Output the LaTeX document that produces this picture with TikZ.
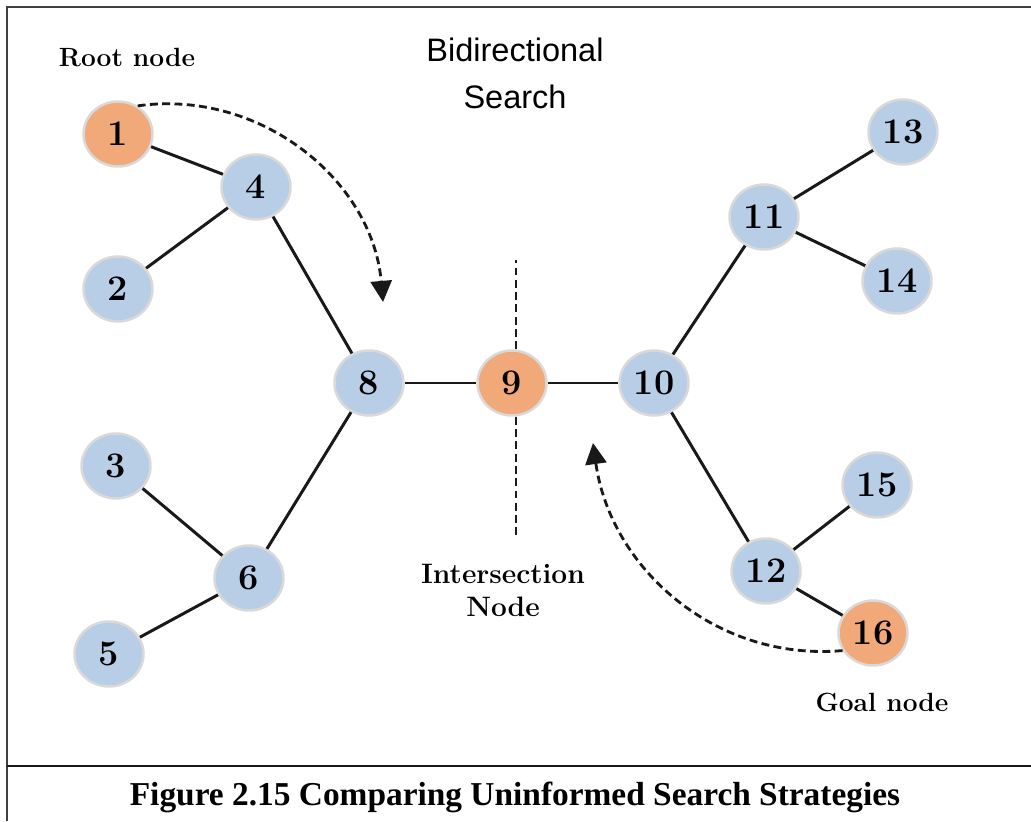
\documentclass[tikz,border=0pt]{standalone}
\usepackage{fontspec}
\usepackage{xcolor}
\usepackage{tikz}
\usetikzlibrary{shapes,arrows,positioning,calc,arrows.meta}
\newfontfamily\titlefont{Liberation Sans}
\newfontfamily\capfont{Liberation Serif}
\definecolor{nodeblue}{RGB}{184,206,230}
\definecolor{nodeorange}{RGB}{241,169,122}

\begin{document}
\begin{tikzpicture}[
    vert/.style={ellipse, draw=white!85!black, line width=1.4pt, fill=nodeblue,
        minimum width=1.38cm, minimum height=1.30cm, inner sep=0pt,
        font=\fontsize{20.5}{20.5}\selectfont\bfseries},
    hit/.style={vert, fill=nodeorange},
    edge/.style={line width=1.7pt, black!90},
    hint/.style={line width=1.6pt, black!90, dash pattern=on 4.5pt off 2.5pt},
    lbl/.style={font=\fontsize{15}{19}\selectfont\bfseries, align=center}
]
    \useasboundingbox (0,0) rectangle (20.62,16.42);
    \draw[line width=1.5pt, black!75] (0.14,0) -- (0.14,16.28) -- (20.62,16.28);
    \draw[line width=1.6pt, black!90] (0.14,1.10) -- (20.62,1.10);

    \node[font=\titlefont\fontsize{18.5}{26.7}\selectfont, align=center] (title) at (10.30,14.95) {Bidirectional\\Search};
    \node[lbl] (rootlbl) at (2.54,15.26) {Root node};
    \node[lbl] (goallbl) at (17.64,2.38) {Goal node};
    \node[lbl, font=\fontsize{16}{19}\selectfont\bfseries] (meetlbl) at (10.06,4.61) {Intersection\\Node};

    \node[hit]  (n1)  at (2.36,13.74) {1};
    \node[vert] (n2)  at (2.36,10.64) {2};
    \node[vert] (n4)  at (5.12,12.68) {4};
    \node[vert] (n3)  at (2.32,7.10)  {3};
    \node[vert] (n6)  at (4.98,4.86)  {6};
    \node[vert] (n5)  at (2.18,3.34)  {5};
    \node[vert] (n8)  at (7.38,8.76)  {8};
    \node[hit]  (n9)  at (10.24,8.76) {9};
    \node[vert] (n10) at (13.08,8.76) {10};
    \node[vert] (n11) at (15.28,12.08) {11};
    \node[vert] (n13) at (18.06,13.78) {13};
    \node[vert] (n14) at (17.94,10.80) {14};
    \node[vert] (n12) at (15.32,5.00) {12};
    \node[vert] (n15) at (17.54,6.72) {15};
    \node[hit]  (n16) at (17.46,3.76) {16};

    \draw[edge] (n1) -- (n4);
    \draw[edge] (n2) -- (n4);
    \draw[edge] (n4) -- (n8);
    \draw[edge] (n3) -- (n6);
    \draw[edge] (n5) -- (n6);
    \draw[edge] (n6) -- (n8);
    \draw[edge] (n8) -- (n9);
    \draw[edge] (n9) -- (n10);
    \draw[edge] (n10) -- (n11);
    \draw[edge] (n10) -- (n12);
    \draw[edge] (n11) -- (n13);
    \draw[edge] (n11) -- (n14);
    \draw[edge] (n12) -- (n15);
    \draw[edge] (n12) -- (n16);

    \coordinate (cuttop) at (10.32,11.22);
    \coordinate (cutbot) at (10.32,5.72);
    \draw[hint] (n9.north -| cuttop) -- (cuttop);
    \draw[hint] (n9.south -| cutbot) -- (cutbot);

    \coordinate (fwdend) at (7.66,10.38);
    \coordinate (bwdend) at (11.86,7.56);
    \draw[hint, -{Triangle[width=12pt,length=12pt]}] (n1.55) to[out=8, in=95] (fwdend);
    \draw[hint, -{Triangle[width=12pt,length=12pt]}] (n16.210) to[out=185, in=-82] (bwdend);

    \node[font=\capfont\bfseries\fontsize{19}{22}\selectfont] (caption) at (10.30,0.48) {Figure 2.15 Comparing Uninformed Search Strategies};
\end{tikzpicture}
\end{document}
